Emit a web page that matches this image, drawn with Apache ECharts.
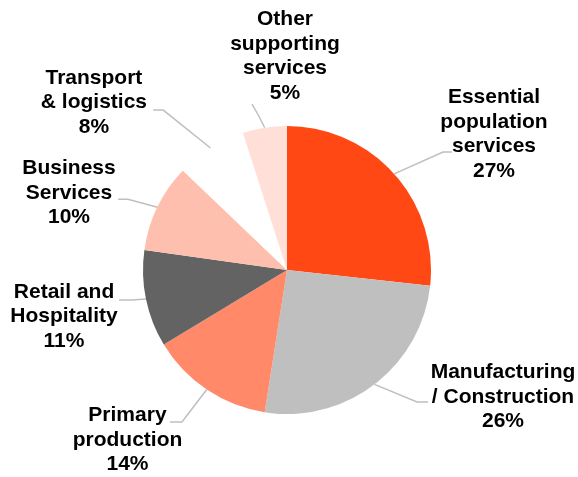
<!DOCTYPE html>
<html>
<head>
<meta charset="utf-8">
<script src="https://cdn.jsdelivr.net/npm/echarts@6/dist/echarts.min.js"></script>
<style>
  html, body { margin: 0; padding: 0; background: #ffffff; }
  #chart { width: 578px; height: 477px; }
</style>
</head>
<body>
<div id="chart"></div>
<script>
// Employment share by sector (%)
const sectors = [
  'Essential\npopulation\nservices',
  'Manufacturing\n/ Construction',
  'Primary\nproduction',
  'Retail and\nHospitality',
  'Business\nServices',
  'Transport\n& logistics',
  'Other\nsupporting\nservices'
];
const shares = [27, 26, 14, 11, 10, 8, 5];
const sectorColors = ['#FF4814', '#BFBFBF', '#FF8969', '#636363', '#FFBFAE', '#FFFFFF', '#FFDFD7'];

// Label placement relative to where each slice's leader line starts on the rim:
// [bend dx, bend dy, end dx, end dy, text-centre dx, text-centre dy]
const leaderOffsets = [
  [48.8, -21.9, 57.8, -21.9, 99.8, -39.9],
  [42.5, 17.7, 53.5, 17.7, 128.5, 12.4],
  [-24.8, 32.4, -36.8, 32.4, -79.3, 50.2],
  [-13.9, 1.1, -26.9, 1.1, -81.9, 17.5],
  [-29.4, -7.9, -39.4, -7.9, -88.4, -14.4],
  [-47.3, -37.9, -57.3, -37.9, -116.6, -45.6],
  [-6.0, -12.0, -12.7, -23.7, 20.3, -71.3]
];

const chart = echarts.init(document.getElementById('chart'), null, { renderer: 'canvas' });

chart.setOption({
  backgroundColor: '#ffffff',
  animation: false,
  series: [{
    type: 'pie',
    center: [287, 270],
    radius: 144,
    startAngle: 90,
    clockwise: true,
    avoidLabelOverlap: false,
    data: sectors.map((name, i) => ({
      name: name,
      value: shares[i],
      itemStyle: { color: sectorColors[i] }
    })),
    itemStyle: { borderWidth: 0 },
    label: {
      show: true,
      position: 'outside',
      formatter: '{b}\n{c}%',
      fontFamily: '"Liberation Sans", Arial, sans-serif',
      fontWeight: 'bold',
      fontSize: 21,
      lineHeight: 24.5,
      color: '#000000'
    },
    labelLine: {
      show: true,
      length: 20,
      length2: 10,
      lineStyle: { color: '#BFBFBF', width: 1.5 }
    },
    emphasis: { disabled: true },
    labelLayout: function (params) {
      const o = leaderOffsets[params.dataIndex];
      const p0 = params.labelLinePoints[0];
      return {
        x: p0[0] + o[4],
        y: p0[1] + o[5],
        align: 'center',
        verticalAlign: 'middle',
        labelLinePoints: [
          [p0[0], p0[1]],
          [p0[0] + o[0], p0[1] + o[1]],
          [p0[0] + o[2], p0[1] + o[3]]
        ]
      };
    }
  }]
});
</script>
</body>
</html>
